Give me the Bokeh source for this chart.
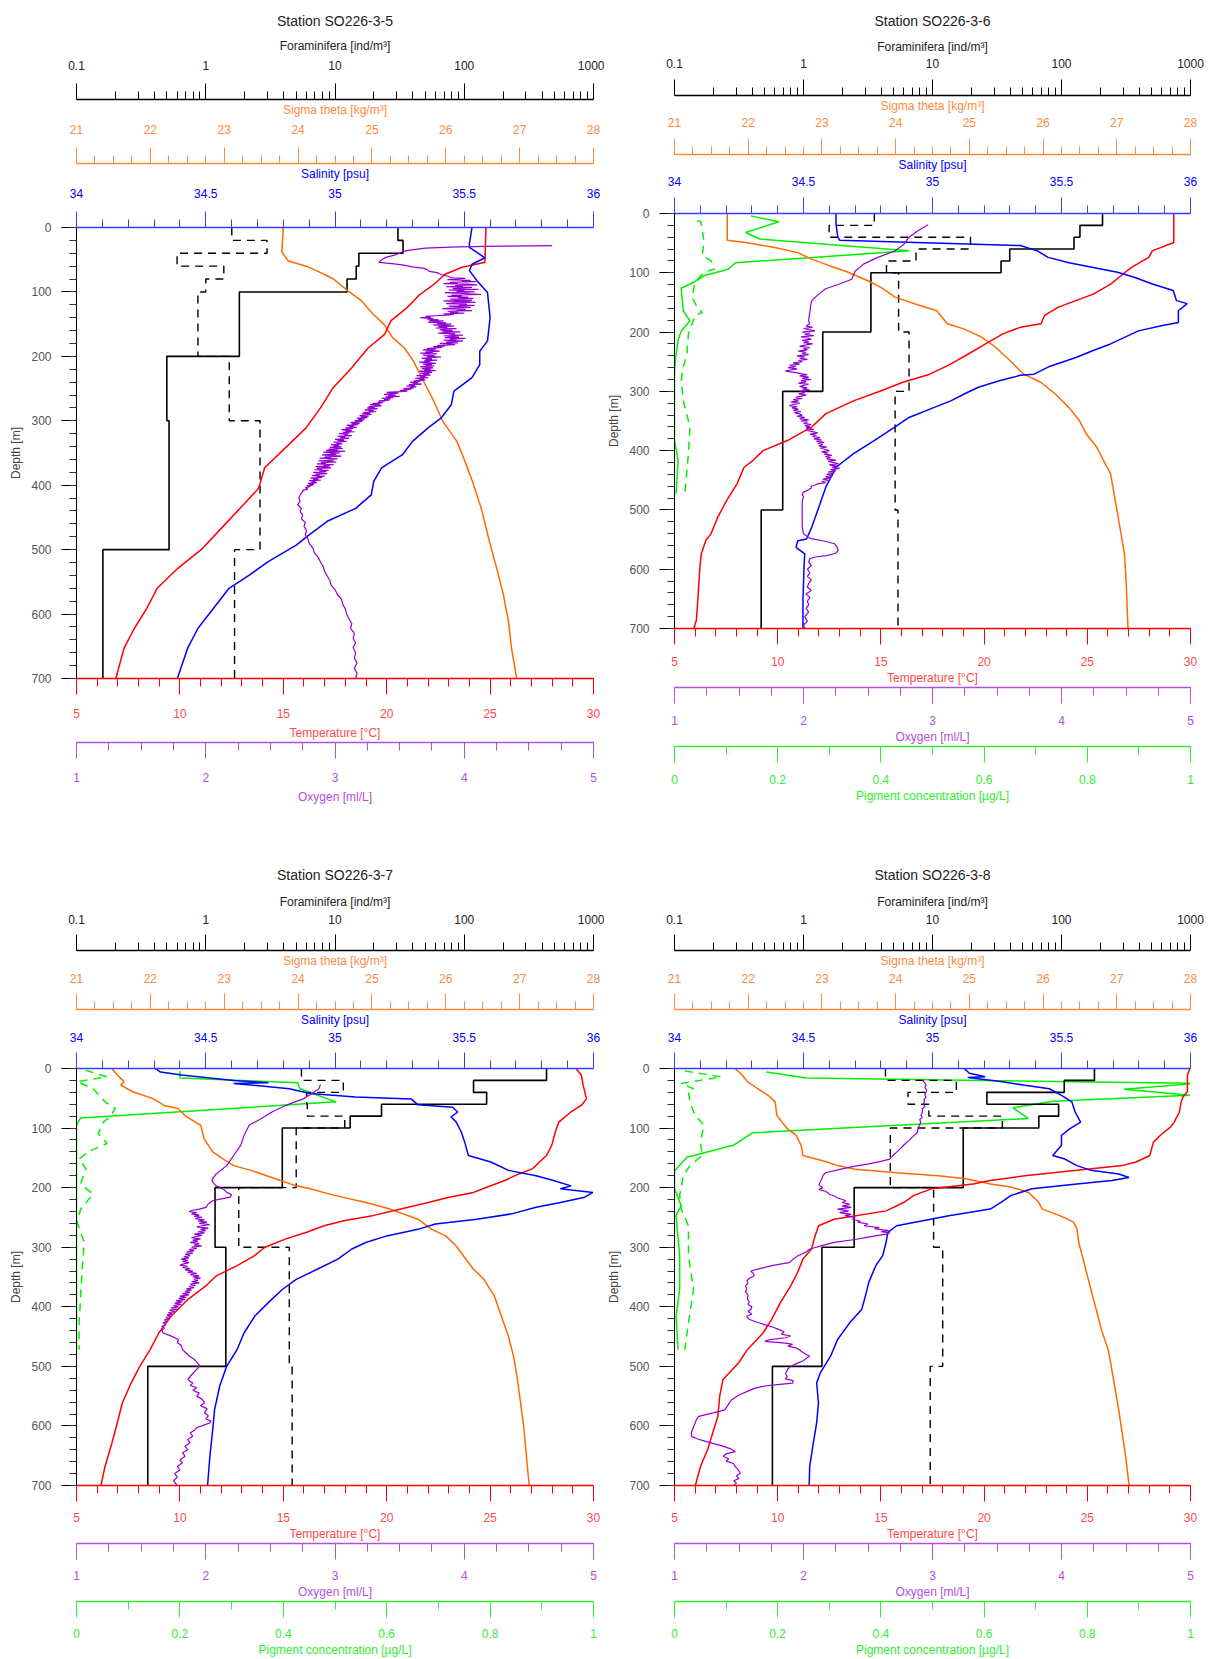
import numpy as np
from bokeh.plotting import figure
from bokeh.models import Range1d, LinearAxis, LogAxis, LogScale, FixedTicker, CustomJSTickFormatter
from bokeh.layouts import column, row
from bokeh.embed import file_html
from bokeh.resources import INLINE

# ---------------- data ----------------
stations = ["Station SO226-3-5", "Station SO226-3-6", "Station SO226-3-7", "Station SO226-3-8"]
foram_edges = [0, 20, 40, 60, 80, 100, 200, 300, 500, 700]

# (depth, value) pairs
p1_temp = [(0,24.8),(54,24.75),(62,23.6),(73,22.8),(88,22.3),(104,21.6),(124,21.0),(145,20.2),(166,19.9),(187,19.1),(218,18.3),(249,17.4),(280,16.8),(311,16.1),(342,15.1),(373,14.1),(405,13.8),(436,12.9),(467,12.0),(498,11.1),(529,9.9),(560,8.9),(591,8.4),(622,7.8),(653,7.3),(700,6.9)]
p1_sal = [(0,35.53),(25,35.52),(31,35.52),(47,35.58),(57,35.53),(67,35.52),(83,35.55),(101,35.59),(140,35.60),(176,35.59),(192,35.56),(213,35.56),(233,35.53),(254,35.46),(275,35.45),(296,35.41),(311,35.36),(332,35.30),(353,35.26),(373,35.18),(394,35.15),(415,35.14),(436,35.08),(456,34.97),(477,34.90),(493,34.85),(519,34.74),(539,34.67),(560,34.59),(591,34.53),(622,34.47),(653,34.43),(700,34.39)]
p1_sig = [(0,23.80),(38,23.78),(52,23.87),(60,24.11),(67,24.25),(80,24.48),(98,24.67),(114,24.86),(135,25.02),(150,25.16),(171,25.28),(187,25.44),(207,25.56),(239,25.70),(270,25.84),(301,25.96),(332,26.15),(363,26.26),(394,26.36),(436,26.48),(487,26.59),(529,26.69),(570,26.78),(612,26.85),(653,26.89),(700,26.96)]
p1_oxy = [(28,4.68),(29,4.30),(30,3.95),(32,3.70),(35,3.58),(37,3.53),(40,3.50),(43,3.46),(46,3.40),(50,3.36),(54,3.34),(56,3.44),(58,3.52),(61,3.60),(63,3.68),(65,3.71),(68,3.73),(70,3.79),(73,3.82),(76,3.88),
 (78,3.90),(79,4.01),(80,3.94),(81,3.87),(82,4.05),(83,3.98),(84,4.09),(85,3.89),(86,3.95),(87,3.84),(88,4.02),(89,4.10),(90,3.93),(91,3.99),(92,3.86),(93,4.06),(94,3.97),(95,3.91),(96,4.11),(97,3.88),(98,4.00),(99,3.94),(100,4.08),(101,3.85),(102,3.96),(103,4.04),(104,4.13),(105,3.90),(106,3.98),(107,3.87),(108,4.03),(109,3.95),(110,4.07),(111,3.89),(112,3.93),(113,4.06),(114,3.84),(115,3.99),(116,4.09),(117,3.92),(118,3.86),(119,4.02),(120,3.96),(121,4.08),(122,3.88),(123,3.97),(124,4.05),(125,3.90),(126,3.83),(127,4.01),(128,3.94),(129,4.06),(130,3.87),(131,3.95),(132,3.89),(133,4.00),(134,3.84),(135,3.92),(136,3.86),
 (137,3.78),(138,3.70),(139,3.74),(140,3.66),(141,3.76),(142,3.71),(143,3.80),(144,3.73),(145,3.84),(146,3.77),(147,3.72),(148,3.86),(149,3.79),(150,3.90),(151,3.76),(152,3.83),(153,3.92),(154,3.80),(155,3.87),(156,3.78),(157,3.94),(158,3.85),(159,3.81),(160,3.91),(161,3.83),(162,3.97),(163,3.86),(164,3.80),(165,3.93),(166,3.88),(167,3.99),(168,3.84),(169,3.90),(170,3.96),(171,3.85),(172,4.01),(173,3.89),(174,3.94),(175,3.84),(176,3.99),(177,3.90),(178,3.86),(179,3.95),(180,3.81),(181,3.88),(182,3.93),(183,3.79),(184,3.85),(185,3.76),(186,3.83),
 (188,3.71),(189,3.78),(190,3.68),(191,3.75),(192,3.81),(193,3.70),(194,3.76),(195,3.66),(196,3.79),(197,3.72),(198,3.68),(199,3.77),(200,3.71),(201,3.82),(202,3.74),(203,3.67),(204,3.75),(205,3.70),(206,3.79),(207,3.69),(208,3.74),(209,3.65),(210,3.73),(211,3.78),(212,3.68),(213,3.75),(214,3.70),(215,3.77),(216,3.66),(217,3.72),(218,3.76),(219,3.67),(220,3.74),(221,3.69),(222,3.78),(223,3.65),(224,3.71),(225,3.75),(226,3.66),(227,3.73),(228,3.68),(229,3.74),(230,3.63),(231,3.70),(232,3.66),(233,3.72),(234,3.62),(235,3.69),(236,3.65),(237,3.70),(238,3.61),
 (239,3.66),(240,3.58),(241,3.64),(242,3.60),(243,3.67),(244,3.57),(245,3.62),(246,3.55),(247,3.63),(248,3.58),(249,3.61),(250,3.53),(251,3.59),(252,3.54),(253,3.50),(254,3.56),
 (255,3.47),(256,3.40),(257,3.49),(258,3.43),(259,3.38),(260,3.47),(261,3.41),(262,3.50),(263,3.39),(264,3.45),(265,3.36),(266,3.43),(267,3.38),(268,3.42),(269,3.34),(270,3.39),
 (271,3.33),(272,3.37),(273,3.29),(274,3.35),(275,3.27),(276,3.32),(277,3.36),(278,3.26),(279,3.31),(280,3.25),(281,3.33),(282,3.28),(283,3.23),(284,3.30),(285,3.26),(286,3.32),(287,3.22),(288,3.27),(289,3.21),(290,3.28),(291,3.24),(292,3.19),(293,3.26),(294,3.20),(295,3.25),(296,3.17),(297,3.23),(298,3.18),(299,3.22),(300,3.15),
 (301,3.21),(302,3.16),(303,3.12),(304,3.19),(305,3.13),(306,3.18),(307,3.09),(308,3.15),(309,3.11),(310,3.17),(311,3.08),(312,3.14),(313,3.10),(314,3.05),(315,3.13),(316,3.08),(317,3.15),(318,3.06),(319,3.11),(320,3.03),(321,3.10),(322,3.07),(323,3.13),(324,3.02),(325,3.08),(326,3.04),(327,3.11),(328,3.05),(329,3.00),(330,3.07),(331,3.02),(332,3.09),(333,2.99),(334,3.05),(335,3.01),(336,3.06),(337,2.97),(338,3.03),(339,2.99),(340,3.05),(341,2.96),(342,3.01),
 (343,3.06),(344,2.95),(345,3.02),(346,2.93),(347,3.08),(348,2.97),(349,2.91),(350,3.04),(351,2.96),(352,3.01),(353,2.90),(354,2.98),(355,3.05),(356,2.92),(357,2.97),(358,2.88),(359,3.02),(360,2.94),(361,2.99),(362,2.87),(363,2.95),(364,3.01),(365,2.89),(366,2.93),(367,2.86),(368,2.99),(369,2.91),(370,2.96),(371,2.85),(372,2.92),(373,2.97),(374,2.86),(375,2.90),(376,2.84),(377,2.95),(378,2.88),(379,2.93),(380,2.83),(381,2.89),(382,2.94),(383,2.85),(384,2.88),(385,2.82),(386,2.92),(387,2.86),(388,2.90),(389,2.81),(390,2.87),(391,2.83),(392,2.89),(393,2.80),(394,2.85),
 (395,2.82),(396,2.86),(397,2.79),(398,2.84),(399,2.80),(400,2.83),(401,2.78),(402,2.81),(404,2.77),(406,2.79),(408,2.75),(410,2.75),
 (415,2.73),(420,2.72),(425,2.73),(430,2.71),(436,2.74),(441,2.73),(446,2.75),(452,2.74),(458,2.77),(464,2.76),(470,2.78),(477,2.77),(483,2.79),(490,2.80),(498,2.83),(505,2.84),(512,2.87),(520,2.89),(527,2.91),(534,2.92),(541,2.94),(548,2.96),(555,2.97),(562,3.00),(570,3.02),(577,3.05),(585,3.06),(592,3.08),(600,3.09),(608,3.11),(615,3.13),(622,3.12),(630,3.15),(638,3.14),(645,3.16),(652,3.14),(660,3.16),(668,3.15),(676,3.17),(684,3.15),(692,3.17),(700,3.16)]
p1_foram_a = [30.7, 33.6, 15.3, 14.6, 12.4, 1.82, 0.50, 0.52, 0.16]
p1_foram_b = [1.59, 2.98, 0.60, 1.38, 1.00, 0.87, 1.52, 2.63, 1.67]

p2_temp = [(0,29.19),(49,29.19),(63,28.15),(74,27.98),(91,27.14),(105,26.63),(119,26.13),(136,25.29),(147,24.44),(158,23.60),(172,22.93),(186,22.76),(192,21.75),(203,20.91),(220,20.07),(237,19.23),(254,18.38),(271,17.37),(285,16.03),(299,15.02),(316,13.67),(338,12.32),(360,11.65),(383,10.47),(400,9.29),(417,8.79),(428,8.37),(456,8.03),(484,7.53),(512,7.10),(540,6.77),(551,6.52),(574,6.30),(596,6.23),(652,6.13),(686,6.06),(700,5.93)]
p2_sal = [(0,34.626),(18,34.626),(40,34.633),(45,34.640),(54,35.340),(63,35.407),(74,35.448),(83,35.529),(91,35.623),(99,35.717),(108,35.785),(119,35.852),(130,35.933),(147,35.946),(152,35.987),(164,35.953),(184,35.953),(189,35.892),(198,35.798),(209,35.744),(220,35.690),(231,35.623),(243,35.556),(259,35.448),(271,35.394),(273,35.340),(282,35.259),(293,35.178),(304,35.125),(316,35.071),(330,34.990),(344,34.909),(360,34.855),(383,34.774),(405,34.694),(428,34.626),(462,34.586),(496,34.559),(529,34.532),(549,34.512),(552,34.478),(563,34.471),(574,34.505),(596,34.502),(652,34.498),(700,34.498)]
p2_sig = [(0,21.716),(45,21.716),(49,21.966),(57,22.343),(66,22.673),(77,22.862),(88,23.098),(99,23.357),(113,23.616),(125,23.805),(141,23.993),(153,24.276),(164,24.559),(186,24.700),(195,24.936),(209,25.172),(226,25.360),(248,25.549),(271,25.737),(285,25.973),(304,26.162),(327,26.350),(349,26.492),(372,26.586),(394,26.727),(417,26.822),(439,26.916),(473,26.963),(506,27.010),(540,27.057),(574,27.104),(624,27.128),(700,27.152)]
p2_oxy = [(19,2.966),(29,2.886),(40,2.818),(52,2.778),(63,2.710),(74,2.576),(85,2.468),(97,2.401),(111,2.374),(119,2.279),(127,2.172),(136,2.118),(147,2.064),(156,2.055),(164,2.051),(172,2.045),(180,2.040),(186,2.046),
 (190,2.02),(192,2.07),(194,2.00),(196,2.04),(198,2.09),(200,1.99),(202,2.05),(204,2.01),(206,2.08),(208,1.98),(210,2.03),(212,2.06),(214,1.99),(216,2.04),(218,2.00),(220,2.07),(222,2.01),(224,1.97),(226,2.05),(228,2.00),(230,2.03),(232,1.96),(234,2.02),(236,1.99),(238,2.04),(240,1.95),(242,2.01),(244,1.97),(246,2.03),(248,1.96),(250,1.99),
 (252,1.92),(254,1.97),(256,1.89),(258,1.94),(260,1.88),(262,1.95),(264,1.90),(266,1.86),(268,1.93),
 (270,1.98),(272,2.03),(274,1.97),(276,2.04),(278,1.99),(280,2.06),(282,1.98),(284,2.02),(286,1.96),(288,2.04),(290,2.00),(292,1.97),(294,2.03),(296,1.99),(298,2.05),(300,1.97),(302,2.01),(304,1.96),(306,2.02),(308,1.98),
 (310,1.94),(312,1.99),(314,1.92),(316,1.96),(318,1.90),(320,1.97),(322,1.93),(324,1.89),(326,1.95),(328,1.91),(330,1.96),(332,1.92),(334,1.98),(336,1.93),(338,1.97),
 (340,1.99),(342,1.95),(344,2.01),(346,1.97),(348,2.04),(350,1.98),(352,2.03),(354,2.00),(356,2.06),(358,2.01),(360,2.05),(362,2.02),(364,2.08),(366,2.03),(368,2.07),(370,2.11),(372,2.05),(374,2.10),(376,2.07),(378,2.13),(380,2.08),(382,2.14),(384,2.10),(386,2.16),(388,2.11),(390,2.15),(392,2.12),(394,2.18),(396,2.13),(398,2.17),(400,2.20),(402,2.14),(404,2.19),(406,2.16),(408,2.22),(410,2.17),(412,2.21),(414,2.18),(416,2.25),(418,2.19),(420,2.23),(422,2.27),(424,2.20),(426,2.26),(428,2.22),(430,2.28),(432,2.21),(434,2.25),(436,2.19),(438,2.24),(440,2.18),(442,2.23),(444,2.17),(446,2.21),(448,2.15),(450,2.19),(452,2.14),(454,2.17),(456,2.11),(458,2.09),(460,2.06),
 (463,2.06),(466,2.04),(470,2.00),(473,1.99),(478,2.00),(485,1.99),(496,1.99),(510,1.99),(529,1.99),(540,2.00),(548,2.05),(552,2.15),(557,2.24),(563,2.26),(568,2.27),(573,2.25),(577,2.18),(579,2.10),(582,2.05),(588,2.04),(594,2.06),(600,2.03),(606,2.05),(612,2.03),(618,2.06),(624,2.04),(630,2.03),(636,2.06),(642,2.02),(648,2.05),(654,2.03),(660,2.04),(666,2.02),(672,2.04),(680,2.01),(688,2.03),(694,2.00),(700,2.01)]
p2_pig_a = [(4,0.148),(14,0.202),(32,0.138),(43,0.165),(63,0.455),(83,0.118),(94,0.104),(105,0.057),(116,0.037),(126,0.013),(164,0.017),(181,0.030),(198,0.013),(214,0.007),(243,0.002),(271,0.0),(383,0.0),(417,0.007),(473,0.003)]
p2_pig_b = [(12,0.044),(14,0.051),(29,0.054),(46,0.057),(71,0.054),(80,0.071),(94,0.077),(99,0.057),(116,0.040),(141,0.034),(158,0.044),(167,0.054),(172,0.040),(203,0.027),(237,0.024),(259,0.017),(282,0.013),(316,0.017),(360,0.030),(405,0.027),(473,0.020)]
p2_foram_a = [208, 139, 125, 39.7, 34.0, 3.33, 1.41, 0.69, 0.47]
p2_foram_b = [3.54, 1.58, 19.7, 7.45, 4.40, 5.46, 6.58, 5.13, 5.40]

p3_temp = [(0,29.16),(11,29.41),(28,29.50),(51,29.66),(62,29.41),(73,28.91),(90,28.32),(107,28.15),(129,27.98),(146,27.73),(157,27.39),(168,27.06),(177,26.39),(188,25.71),(199,24.87),(208,24.20),(216,23.02),(225,22.01),(236,20.67),(247,19.32),(255,17.98),(264,16.97),(275,16.13),(286,15.12),(300,14.11),(314,13.61),(331,12.77),(348,11.76),(365,11.25),(387,10.41),(416,9.57),(444,8.98),(472,8.56),(500,8.06),(528,7.64),(561,7.22),(595,6.97),(629,6.71),(668,6.38),(700,6.18)]
p3_sal = [(0,34.305),(6,34.325),(11,34.406),(20,34.608),(24,34.742),(25,34.608),(34,34.823),(42,34.904),(48,35.079),(51,35.294),(61,35.321),(65,35.455),(73,35.475),(81,35.449),(90,35.469),(107,35.489),(124,35.502),(146,35.516),(157,35.603),(171,35.671),(180,35.778),(188,35.845),(197,35.913),(202,35.872),(208,35.998),(216,35.966),(225,35.872),(233,35.778),(244,35.684),(253,35.549),(261,35.388),(270,35.321),(281,35.200),(292,35.119),(303,35.065),(320,35.011),(337,34.931),(354,34.850),(371,34.796),(393,34.742),(416,34.689),(444,34.648),(472,34.621),(500,34.581),(533,34.554),(573,34.534),(606,34.527),(651,34.516),(700,34.507)]
p3_sig = [(0,21.480),(11,21.551),(22,21.645),(28,21.598),(39,21.763),(51,22.045),(62,22.186),(67,22.375),(79,22.469),(90,22.610),(95,22.681),(118,22.728),(140,22.845),(152,22.987),(163,23.128),(171,23.363),(185,23.693),(197,23.975),(202,24.163),(213,24.493),(225,24.917),(236,25.246),(253,25.623),(270,25.811),(281,25.999),(298,26.141),(314,26.235),(337,26.376),(354,26.517),(382,26.658),(416,26.753),(449,26.847),(483,26.917),(517,26.964),(561,27.012),(606,27.059),(651,27.092),(700,27.129)]
p3_oxy = [(27,2.888),(34,2.875),(42,2.821),(51,2.754),(62,2.619),(73,2.512),(84,2.431),(95,2.337),(112,2.297),(129,2.270),(146,2.216),(163,2.162),(177,2.081),(185,2.054),(190,2.05),(197,2.081),(203,2.14),(208,2.162),(212,2.20),(216,2.189),(219,2.12),(222,2.054),(227,2.02),(233,2.001),
 (236,1.95),(238,1.90),(240,1.87),(242,1.93),(244,1.89),(246,1.95),(248,1.91),(250,1.97),(252,1.92),(254,1.99),(256,1.94),(258,2.01),(260,1.95),(262,2.03),(264,1.97),(266,1.93),(268,2.02),(270,1.96),(272,2.00),(274,1.94),(276,1.99),(278,1.91),(280,1.97),(282,1.93),(284,1.89),(286,1.96),(288,1.90),(290,1.94),(292,1.88),(294,1.95),(296,1.91),(298,1.97),(300,1.89),(302,1.93),(304,1.87),(306,1.91),(308,1.85),(310,1.90),(312,1.84),(314,1.88),(316,1.83),(318,1.87),(320,1.81),(322,1.86),(324,1.82),(326,1.87),(328,1.83),(330,1.80),(332,1.86),(334,1.82),(336,1.88),(338,1.84),(340,1.90),(342,1.86),(344,1.93),(346,1.88),(348,1.95),(350,1.90),(352,1.96),(354,1.91),(356,1.94),(358,1.89),(360,1.95),(362,1.88),(364,1.92),(366,1.87),(368,1.91),(370,1.85),(372,1.89),(374,1.84),(376,1.88),(378,1.82),(380,1.87),(382,1.80),(384,1.85),(386,1.79),(388,1.84),(390,1.77),(392,1.82),(394,1.76),(396,1.81),(398,1.75),(400,1.79),(402,1.73),(404,1.78),(406,1.72),(408,1.76),(410,1.71),(412,1.74),(414,1.70),(416,1.73),(418,1.69),(420,1.72),(422,1.68),(424,1.70),(427,1.67),(430,1.69),(433,1.66),(436,1.68),(440,1.66),(444,1.67),
 (448,1.72),(452,1.76),(455,1.79),(460,1.78),(465,1.81),(472,1.82),(476,1.84),(480,1.86),(484,1.88),(488,1.91),(493,1.93),(498,1.95),(503,1.94),(507,1.92),(512,1.90),(517,1.88),(522,1.86),(528,1.90),(532,1.88),(536,1.93),(540,1.90),(545,1.95),(550,1.93),(555,1.97),(561,1.99),(566,1.96),(571,2.01),(578,1.99),(583,2.02),(588,2.00),(592,2.04),(595,2.03),(599,1.98),(603,1.93),(606,1.92),(612,1.88),(617,1.90),(623,1.86),(628,1.88),(634,1.84),(640,1.86),(645,1.82),(651,1.84),(657,1.80),(662,1.82),(668,1.78),(674,1.80),(680,1.76),(686,1.78),(692,1.75),(700,1.78)]
p3_pig_a = [(4,0.200),(16,0.200),(24,0.428),(34,0.432),(56,0.502),(83,0.008),(95,0.0),(472,0.0)]
p3_pig_b = [(3,0.018),(14,0.059),(22,0.001),(34,0.032),(56,0.055),(67,0.075),(81,0.065),(90,0.052),(109,0.042),(126,0.059),(140,0.022),(152,0.005),(168,0.018),(194,0.008),(211,0.032),(236,0.008),(258,0.001),(292,0.015),(337,0.011),(382,0.008),(427,0.005),(472,0.005)]
p3_foram_a = [433, 118, 149, 22.9, 13.1, 3.91, 1.18, 1.43, 0.356]
p3_foram_b = [5.50, 11.6, 6.04, 6.11, 11.9, 5.01, 1.80, 4.43, 4.66]

p4_temp = [(0,29.97),(11,29.85),(39,29.85),(48,29.63),(56,29.55),(73,29.46),(90,29.21),(98,29.04),(112,28.54),(124,28.20),(146,28.03),(157,27.36),(163,26.69),(171,24.50),(180,21.98),(188,20.30),(194,19.46),(202,17.44),(213,16.60),(225,16.10),(239,15.26),(253,12.73),(264,11.98),(281,11.81),(303,11.64),(320,11.22),(342,10.97),(365,10.63),(393,10.13),(421,9.71),(444,9.29),(472,8.53),(494,8.11),(522,7.35),(550,7.19),(584,7.10),(612,6.85),(640,6.60),(668,6.26),(700,6.01)]
p4_sal = [(0,35.123),(8,35.143),(14,35.204),(15,35.137),(22,35.264),(28,35.358),(34,35.453),(45,35.500),(56,35.540),(73,35.553),(90,35.574),(101,35.533),(112,35.500),(129,35.500),(146,35.466),(152,35.513),(163,35.560),(171,35.614),(177,35.722),(183,35.762),(188,35.695),(194,35.560),(202,35.385),(213,35.305),(225,35.264),(236,35.224),(247,35.063),(255,34.968),(264,34.861),(275,34.827),(292,34.820),(314,34.807),(331,34.780),(359,34.753),(382,34.740),(404,34.726),(427,34.679),(455,34.632),(483,34.605),(511,34.565),(528,34.551),(561,34.558),(595,34.551),(629,34.538),(668,34.524),(700,34.522)]
p4_sig = [(0,21.824),(11,21.918),(22,21.989),(34,22.130),(45,22.271),(56,22.365),(79,22.389),(90,22.459),(101,22.530),(112,22.648),(129,22.718),(146,22.742),(157,23.071),(163,23.213),(169,23.448),(175,24.013),(180,24.578),(185,24.954),(194,25.284),(199,25.566),(208,25.802),(225,25.943),(236,25.990),(247,26.225),(258,26.414),(270,26.461),(292,26.484),(314,26.531),(337,26.578),(371,26.649),(404,26.720),(438,26.790),(472,26.884),(505,26.932),(539,26.979),(573,27.026),(612,27.073),(651,27.120),(700,27.167)]
p4_oxy = [(20,2.923),(24,2.94),(28,2.950),(32,2.94),(36,2.955),(39,2.950),(44,2.94),(48,2.95),(52,2.935),(56,2.937),(60,2.93),(64,2.94),(68,2.92),(73,2.923),(78,2.91),(82,2.92),(86,2.90),(90,2.910),(95,2.90),(100,2.89),(104,2.885),(107,2.883),(114,2.85),(121,2.816),(128,2.78),(135,2.749),(143,2.71),(152,2.668),(156,2.60),(160,2.506),(164,2.40),(169,2.291),(175,2.170),(180,2.15),(185,2.143),(190,2.13),(195,2.12),(197,2.130),(200,2.15),(203,2.12),(206,2.17),(208,2.184),(211,2.20),(214,2.24),(217,2.26),(219,2.291),(222,2.33),(225,2.30),(228,2.358),(231,2.30),(233,2.37),(236,2.264),(239,2.35),(242,2.28),(245,2.37),(247,2.32),(250,2.40),(253,2.38),(256,2.44),(258,2.42),(261,2.50),(264,2.47),(267,2.587),(269,2.55),(271,2.62),(272,2.66),(274,2.60),(276,2.67),(278,2.641),(280,2.58),(283,2.50),(287,2.40),(292,2.237),(297,2.15),(303,2.05),(308,2.02),(314,1.96),(320,1.92),(326,1.888),(331,1.753),(336,1.66),(340,1.592),(344,1.61),(348,1.619),(352,1.58),(356,1.56),(360,1.57),(365,1.551),(370,1.56),(375,1.55),(380,1.57),(387,1.565),(392,1.58),(396,1.57),(400,1.60),(404,1.592),(408,1.57),(412,1.60),(416,1.56),(421,1.578),(426,1.64),(430,1.699),(434,1.76),(438,1.807),(442,1.85),(446,1.83),(449,1.901),(452,1.86),(455,1.74),(458,1.70),(461,1.86),(463,1.915),(466,1.88),(469,1.94),(472,1.968),(476,1.99),(480,2.02),(483,2.049),(487,2.02),(491,1.995),(495,1.95),(500,1.901),(504,1.88),(508,1.87),(512,1.86),(517,1.874),(521,1.86),(524,1.92),(528,1.915),(531,1.78),(533,1.699),(537,1.62),(542,1.565),(548,1.50),(556,1.444),(563,1.42),(573,1.390),(578,1.30),(584,1.188),(589,1.17),(595,1.161),(600,1.15),(606,1.14),(612,1.13),(618,1.134),(622,1.18),(626,1.242),(630,1.31),(634,1.377),(638,1.43),(643,1.471),(647,1.40),(651,1.377),(655,1.42),(659,1.40),(663,1.457),(668,1.47),(673,1.49),(679,1.511),(684,1.48),(688,1.50),(692,1.46),(696,1.48),(700,1.457)]
p4_pig_a = [(6,0.178),(16,0.256),(25,1.010),(35,0.871),(45,0.999),(55,0.733),(66,0.656),(84,0.686),(108,0.151),(129,0.114),(149,0.024),(172,0.0),(202,0.0),(230,0.013),(247,0.003),(314,0.010),(371,0.010),(416,0.003),(472,0.007)]
p4_pig_b = [(4,0.020),(14,0.091),(25,0.013),(34,0.037),(39,0.027),(56,0.030),(79,0.040),(95,0.057),(124,0.050),(146,0.054),(163,0.030),(180,0.017),(213,0.010),(236,0.013),(264,0.027),(314,0.027),(371,0.037),(427,0.027),(472,0.020)]
p4_foram_a = [180, 105, 26.4, 95, 66.7, 17.3, 2.47, 1.39, 0.574]
p4_foram_b = [4.32, 15.3, 6.46, 9.37, 34.8, 4.71, 10.2, 12.0, 9.6]

# tick labels
temp_ticks = [5, 10, 15, 20, 25, 30]
sal_ticks = [34, 34.5, 35, 35.5, 36]
sig_ticks = [21, 22, 23, 24, 25, 26, 27, 28]
oxy_ticks = [1, 2, 3, 4, 5]
pig_ticks = [0, 0.2, 0.4, 0.6, 0.8, 1]
foram_ticks = [0.1, 1, 10, 100, 1000]
depth_ticks = [0, 100, 200, 300, 400, 500, 600, 700]

# ---------------- style ----------------
FONT = "Liberation Sans"
C_TEMP, T_TEMP = "#FF0000", "#FF4A4A"
C_SAL, A_SAL = "#0000FF", "#3C3CFF"
C_SIG, A_SIG = "#FF6A00", "#FF8A40"
C_OXY, A_OXY = "#9400D3", "#B050DE"
C_PIG, A_PIG = "#00F000", "#30EE30"


def unpack(pairs):
    return [p[1] for p in pairs], [p[0] for p in pairs]


def steps(edges, vals):
    xs, ys = [], []
    for i, v in enumerate(vals):
        xs += [v, v]
        ys += [edges[i], edges[i + 1]]
    return xs, ys


def fmt():
    return CustomJSTickFormatter(code="return String(parseFloat(tick.toFixed(4)));")


def style_axis(ax, line_color, text_color, label, ticks, minor, sp):
    ls, als = sp
    ax.ticker = FixedTicker(ticks=ticks, minor_ticks=minor)
    ax.formatter = fmt()
    ax.axis_label = label
    ax.axis_line_color = line_color
    ax.axis_line_width = 1.3
    ax.major_tick_line_color = line_color
    ax.minor_tick_line_color = line_color
    ax.major_tick_out = 16
    ax.major_tick_in = 0
    ax.minor_tick_out = 8
    ax.minor_tick_in = 0
    ax.major_label_standoff = ls
    ax.axis_label_standoff = als
    ax.major_label_text_color = text_color
    ax.axis_label_text_color = text_color
    ax.major_label_text_font = FONT
    ax.axis_label_text_font = FONT
    ax.major_label_text_font_size = "12px"
    ax.axis_label_text_font_size = "12px"
    ax.axis_label_text_font_style = "normal"


def make_panel(title, temp, sal, sig, oxy, fa, fb, pa, pb, width, height, borders, title_standoff, sp_top, sp_bot):
    left, right, top, bottom = borders
    p = figure(width=width, height=height, x_range=Range1d(5, 30), y_range=Range1d(700, 0),
               x_axis_location=None, y_axis_location="left", toolbar_location=None,
               output_backend="svg", min_border_left=left, min_border_right=right,
               min_border_top=top, min_border_bottom=bottom)
    p.extra_x_ranges = {"sal": Range1d(34, 36), "sig": Range1d(21, 28), "oxy": Range1d(1, 5),
                        "pig": Range1d(0, 1), "for": Range1d(0.1, 1000)}
    p.extra_x_scales = {"for": LogScale()}
    p.outline_line_color = None
    p.grid.visible = False
    p.background_fill_color = "white"
    p.border_fill_color = "white"

    p.title.text = title
    p.title.align = "center"
    p.title.text_font = FONT
    p.title.text_font_size = "14px"
    p.title.text_font_style = "normal"
    p.title.text_color = "#222222"
    p.title.standoff = title_standoff

    # depth axis
    ya = p.yaxis[0]
    ya.ticker = FixedTicker(ticks=depth_ticks, minor_ticks=list(range(0, 701, 20)))
    ya.axis_label = "Depth [m]"
    ya.axis_line_color = "black"
    ya.major_tick_line_color = "black"
    ya.minor_tick_line_color = "#333333"
    ya.major_tick_out = 15
    ya.major_tick_in = 0
    ya.minor_tick_out = 7
    ya.minor_tick_in = 0
    ya.major_label_standoff = 10
    ya.axis_label_standoff = 5
    ya.major_label_text_color = "#555555"
    ya.axis_label_text_color = "#444444"
    ya.major_label_text_font = FONT
    ya.axis_label_text_font = FONT
    ya.major_label_text_font_size = "12px"
    ya.axis_label_text_font_size = "12px"
    ya.axis_label_text_font_style = "normal"

    # top axes (inner to outer)
    a_sal = LinearAxis(x_range_name="sal")
    style_axis(a_sal, A_SAL, C_SAL, "Salinity [psu]", sal_ticks, list(np.round(np.arange(34, 36.001, 0.1), 2)), sp_top)
    p.add_layout(a_sal, "above")
    a_sig = LinearAxis(x_range_name="sig")
    style_axis(a_sig, A_SIG, A_SIG, "Sigma theta [kg/m³]", sig_ticks, list(np.arange(21, 28.001, 0.25)), sp_top)
    p.add_layout(a_sig, "above")
    a_for = LogAxis(x_range_name="for")
    minors = [m * 10.0 ** k for k in range(-1, 3) for m in range(2, 10)]
    style_axis(a_for, "black", "#222222", "Foraminifera [ind/m³]", foram_ticks, minors, sp_top)
    p.add_layout(a_for, "above")

    # bottom axes (inner to outer)
    a_t = LinearAxis()
    style_axis(a_t, C_TEMP, T_TEMP, "Temperature [°C]", temp_ticks, list(range(5, 31)), sp_bot)
    p.add_layout(a_t, "below")
    a_o = LinearAxis(x_range_name="oxy")
    style_axis(a_o, A_OXY, A_OXY, "Oxygen [ml/L]", oxy_ticks, list(np.arange(1, 5.001, 0.25)), sp_bot)
    p.add_layout(a_o, "below")
    if pa is not None:
        a_p = LinearAxis(x_range_name="pig")
        style_axis(a_p, A_PIG, A_PIG, "Pigment concentration [µg/L]", pig_ticks, list(np.round(np.arange(0, 1.001, 0.1), 2)), sp_bot)
        p.add_layout(a_p, "below")

    # profiles
    if pa is not None:
        x, y = unpack(pa)
        p.line(x, y, x_range_name="pig", line_color=C_PIG, line_width=1.5)
        x, y = unpack(pb)
        p.line(x, y, x_range_name="pig", line_color=C_PIG, line_width=1.5, line_dash="8 6")
    x, y = steps(foram_edges, fa)
    p.line(x, y, x_range_name="for", line_color="black", line_width=1.6)
    x, y = steps(foram_edges, fb)
    p.line(x, y, x_range_name="for", line_color="black", line_width=1.4, line_dash="8 6")
    x, y = unpack(sig)
    p.line(x, y, x_range_name="sig", line_color=C_SIG, line_width=1.5)
    x, y = unpack(temp)
    p.line(x, y, line_color=C_TEMP, line_width=1.5)
    x, y = unpack(sal)
    p.line(x, y, x_range_name="sal", line_color=C_SAL, line_width=1.5)
    x, y = unpack(oxy)
    p.line(x, y, x_range_name="oxy", line_color=C_OXY, line_width=1.2)
    return p


TOP_H = 808
BOT_H = 851
p1 = make_panel(stations[0], p1_temp, p1_sal, p1_sig, p1_oxy, p1_foram_a, p1_foram_b, None, None,
                604, TOP_H, (76, 11, 227, 130), 14, (14, 5), (14, 5))
p2 = make_panel(stations[1], p2_temp, p2_sal, p2_sig, p2_oxy, p2_foram_a, p2_foram_b, p2_pig_a, p2_pig_b,
                604, TOP_H, (69, 18, 213, 180), 15, (12, 2), (12, 2))
p3 = make_panel(stations[2], p3_temp, p3_sal, p3_sig, p3_oxy, p3_foram_a, p3_foram_b, p3_pig_a, p3_pig_b,
                604, BOT_H, (76, 11, 260, 174), 17, (11, 3), (11, 2))
p4 = make_panel(stations[3], p4_temp, p4_sal, p4_sig, p4_oxy, p4_foram_a, p4_foram_b, p4_pig_a, p4_pig_b,
                604, BOT_H, (69, 18, 260, 174), 17, (11, 3), (11, 2))

layout = row(column(p1, p3), column(p2, p4))
open("out.html", "w").write(file_html(layout, INLINE))
